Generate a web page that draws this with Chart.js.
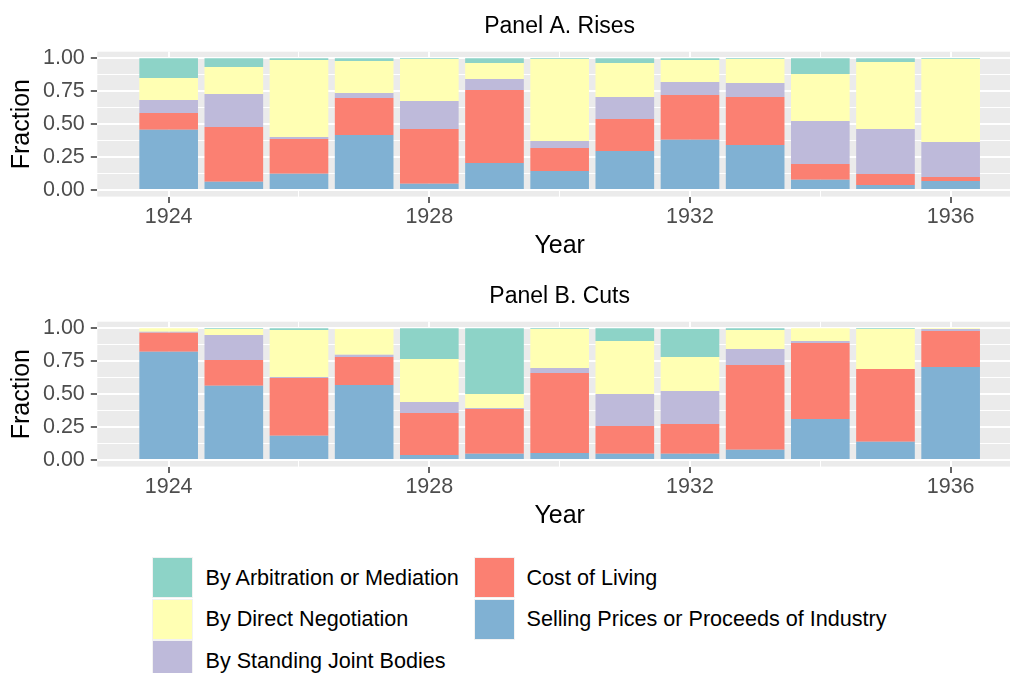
<!DOCTYPE html>
<html>
<head>
<meta charset="utf-8">
<script src="https://cdn.jsdelivr.net/npm/chart.js@4.4.0/dist/chart.umd.min.js"></script>
<style>
  html, body { margin: 0; padding: 0; background: #fff; overflow: hidden; width: 1010px; height: 673px; }
  #wrap { position: relative; width: 1010px; height: 673px; overflow: hidden; font-family: "Liberation Sans", Arial, sans-serif; }
  canvas { position: absolute; left: 0; }
  #risesChart { top: 0; }
  #cutsChart { top: 270px; }
  .key { position: absolute; width: 39px; height: 39px; border: 1px solid #F2F2F2; }
  .lab { position: absolute; font-size: 21.6px; line-height: 40px; color: #000; white-space: nowrap; }
</style>
</head>
<body>
<div id="wrap">
  <canvas id="risesChart" width="1022" height="261"></canvas>
  <canvas id="cutsChart" width="1022" height="261"></canvas>
  <div id="legend"></div>
</div>
<script>
// data (fraction of workers per method, by year)
const years = [1924, 1925, 1926, 1927, 1928, 1929, 1930, 1931, 1932, 1933, 1934, 1935, 1936];

const risesSelling = [0.458, 0.063, 0.124, 0.418, 0.048, 0.205, 0.144, 0.296, 0.382, 0.342, 0.078, 0.038, 0.068];
const risesCost    = [0.127, 0.415, 0.263, 0.281, 0.415, 0.554, 0.175, 0.243, 0.339, 0.364, 0.119, 0.083, 0.031];
const risesJoint   = [0.098, 0.251, 0.015, 0.038, 0.213, 0.084, 0.053, 0.167, 0.099, 0.106, 0.327, 0.342, 0.265];
const risesDirect  = [0.167, 0.205, 0.585, 0.243, 0.319, 0.121, 0.623, 0.258, 0.167, 0.183, 0.357, 0.509, 0.631];
const risesArb     = [0.150, 0.066, 0.013, 0.020, 0.005, 0.036, 0.005, 0.036, 0.013, 0.005, 0.119, 0.028, 0.005];

const cutsSelling = [0.822, 0.564, 0.185, 0.569, 0.038, 0.048, 0.053, 0.048, 0.048, 0.078, 0.311, 0.139, 0.706];
const cutsCost    = [0.145, 0.195, 0.438, 0.213, 0.319, 0.339, 0.608, 0.210, 0.225, 0.643, 0.577, 0.552, 0.274];
const cutsJoint   = [0.007, 0.190, 0.007, 0.018, 0.083, 0.008, 0.038, 0.243, 0.251, 0.122, 0.016, 0.000, 0.015];
const cutsDirect  = [0.026, 0.046, 0.357, 0.195, 0.327, 0.106, 0.296, 0.403, 0.258, 0.144, 0.096, 0.304, 0.005];
const cutsArb     = [0.000, 0.005, 0.013, 0.000, 0.233, 0.499, 0.005, 0.096, 0.213, 0.013, 0.000, 0.005, 0.000];

// stack order, bottom to top
const seriesNames = [
  "Selling Prices or Proceeds of Industry",
  "Cost of Living",
  "By Standing Joint Bodies",
  "By Direct Negotiation",
  "By Arbitration or Mediation"
];
const seriesColors = ["#80B1D3", "#FB8072", "#BEBADA", "#FFFFB3", "#8DD3C7"];

const xMajorTicks = [1924, 1928, 1932, 1936];
const xMinorTicks = [1926, 1930, 1934];
const yMajorTicks = [0, 0.25, 0.5, 0.75, 1];
const yMinorTicks = [0.125, 0.375, 0.625, 0.875];

const FONT = '"Liberation Sans", Arial, sans-serif';

const panelPlugin = {
  id: 'panelPlugin',
  beforeDraw(chart) {
    const {ctx, chartArea: a} = chart;
    ctx.save();
    ctx.fillStyle = '#EBEBEB';
    ctx.fillRect(a.left, a.top, a.right - a.left, a.bottom - a.top);
    ctx.restore();
  },
  afterDraw(chart, args, opts) {
    const {ctx, chartArea: a} = chart;
    ctx.save();
    ctx.font = '23px ' + FONT;
    ctx.fillStyle = '#000';
    ctx.textAlign = 'center';
    ctx.textBaseline = 'middle';
    ctx.fillText(opts.text, (a.left + a.right) / 2, opts.y);
    ctx.restore();
  }
};

function makeChart(id, title, seriesList) {
  const ctx = document.getElementById(id);
  const datasets = seriesList.map((vals, i) => ({
    label: seriesNames[i],
    data: years.map((yr, j) => ({x: yr, y: vals[j]})),
    backgroundColor: seriesColors[i],
    borderWidth: 0,
    categoryPercentage: 1,
    barPercentage: 0.9
  }));

  const isMajorX = v => xMajorTicks.includes(v);
  const isMajorY = v => yMajorTicks.some(t => Math.abs(t - v) < 1e-9);

  return new Chart(ctx, {
    type: 'bar',
    data: {datasets: datasets},
    plugins: [panelPlugin],
    options: {
      responsive: false,
      animation: false,
      devicePixelRatio: 1,
      layout: {padding: {top: 51.7, left: 0, right: 0, bottom: 0}},
      plugins: {
        legend: {display: false},
        tooltip: {enabled: false},
        panelPlugin: {text: title, y: 26.5}
      },
      scales: {
        x: {
          type: 'linear',
          stacked: true,
          offset: false,
          min: 1922.905,
          max: 1937.095,
          border: {display: false},
          afterBuildTicks: axis => {
            axis.ticks = xMajorTicks.concat(xMinorTicks).sort((a, b) => a - b).map(v => ({value: v}));
          },
          afterFit: axis => { axis.height = 64.4; },
          grid: {
            offset: false,
            color: '#FFFFFF',
            lineWidth: c => (c.tick && isMajorX(c.tick.value)) ? 2 : 1,
            tickLength: 6.5,
            tickWidth: 1.5,
            tickColor: c => (c.tick && isMajorX(c.tick.value)) ? '#333333' : 'rgba(0,0,0,0)'
          },
          ticks: {
            autoSkip: false,
            maxRotation: 0,
            padding: 1.5,
            color: '#4D4D4D',
            font: {family: FONT, size: 21.5},
            callback: v => isMajorX(v) ? String(v) : ''
          },
          title: {
            display: true,
            text: 'Year',
            color: '#000',
            font: {family: FONT, size: 25},
            padding: {top: 0, bottom: 0}
          }
        },
        y: {
          type: 'linear',
          stacked: true,
          min: -0.05,
          max: 1.05,
          border: {display: false},
          afterBuildTicks: axis => {
            axis.ticks = yMajorTicks.concat(yMinorTicks).sort((a, b) => a - b).map(v => ({value: v}));
          },
          afterFit: axis => { axis.width = 97.3; },
          grid: {
            color: '#FFFFFF',
            lineWidth: c => (c.tick && isMajorY(c.tick.value)) ? 2 : 1,
            tickLength: 6.5,
            tickWidth: 1.5,
            tickColor: c => (c.tick && isMajorY(c.tick.value)) ? '#333333' : 'rgba(0,0,0,0)'
          },
          ticks: {
            autoSkip: false,
            padding: 6,
            color: '#4D4D4D',
            font: {family: FONT, size: 21.5},
            callback: v => isMajorY(v) ? v.toFixed(2) : ''
          },
          title: {
            display: true,
            text: 'Fraction',
            color: '#000',
            font: {family: FONT, size: 25},
            padding: {top: 6.7, bottom: 0}
          }
        }
      }
    }
  });
}

makeChart('risesChart', 'Panel A. Rises', [risesSelling, risesCost, risesJoint, risesDirect, risesArb]);
makeChart('cutsChart', 'Panel B. Cuts', [cutsSelling, cutsCost, cutsJoint, cutsDirect, cutsArb]);

// legend: two columns, filled column by column like ggplot
const legendOrder = [4, 3, 2, 1, 0];
const legendCols = [{key: 151.5, text: 205.5}, {key: 473.5, text: 526.5}];
const legendRows = [557, 598.5, 640];
const legendEl = document.getElementById('legend');
legendOrder.forEach((s, k) => {
  const col = legendCols[Math.floor(k / 3)];
  const top = legendRows[k % 3];
  const key = document.createElement('div');
  key.className = 'key';
  key.style.left = col.key + 'px';
  key.style.top = top + 'px';
  key.style.background = seriesColors[s];
  legendEl.appendChild(key);
  const lab = document.createElement('div');
  lab.className = 'lab';
  lab.style.left = col.text + 'px';
  lab.style.top = (top + 0.5) + 'px';
  lab.textContent = seriesNames[s];
  legendEl.appendChild(lab);
});
</script>
</body>
</html>
